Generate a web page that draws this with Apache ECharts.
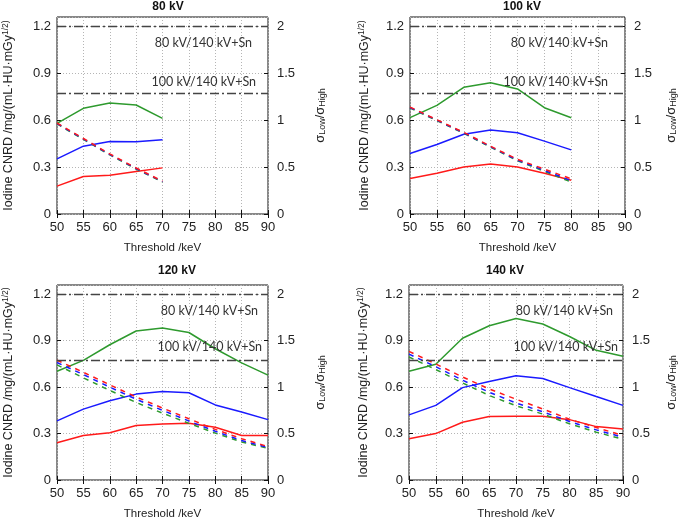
<!DOCTYPE html>
<html>
<head>
<meta charset="utf-8">
<script src="https://cdn.jsdelivr.net/npm/echarts@6/dist/echarts.min.js"></script>
<style>
html,body{margin:0;padding:0;background:#fff;}
#chart{width:685px;height:521px;}
</style>
</head>
<body>
<div id="chart"></div>
<script>
// ---------- data ----------
const panelTitles = ['80 kV', '100 kV', '120 kV', '140 kV'];
const xTickValues = [50, 55, 60, 65, 70, 75, 80, 85, 90];

const kev80  = [50, 55, 60, 65, 70];
const kev100 = [50, 55, 60, 65, 70, 75, 80];
const kev120 = [50, 55, 60, 65, 70, 75, 80, 85, 90];
const kev140 = [50, 55, 60, 65, 70, 75, 80, 85, 90];

// Iodine CNRD (left axis)
const cnrdGreen80 = [0.580, 0.676, 0.710, 0.697, 0.612];
const cnrdBlue80  = [0.353, 0.434, 0.464, 0.462, 0.475];
const cnrdRed80   = [0.178, 0.240, 0.248, 0.272, 0.295];

const cnrdGreen100 = [0.616, 0.695, 0.810, 0.840, 0.800, 0.680, 0.616];
const cnrdBlue100  = [0.387, 0.445, 0.510, 0.537, 0.520, 0.466, 0.410];
const cnrdRed100   = [0.227, 0.260, 0.300, 0.320, 0.300, 0.260, 0.216];

const cnrdGreen120 = [0.703, 0.773, 0.874, 0.963, 0.982, 0.953, 0.848, 0.757, 0.678];
const cnrdBlue120  = [0.382, 0.458, 0.512, 0.555, 0.572, 0.564, 0.485, 0.439, 0.390];
const cnrdRed120   = [0.241, 0.288, 0.305, 0.352, 0.362, 0.367, 0.341, 0.288, 0.288];

const cnrdGreen140 = [0.703, 0.748, 0.916, 0.997, 1.044, 1.008, 0.927, 0.838, 0.799];
const cnrdBlue140  = [0.421, 0.482, 0.597, 0.636, 0.674, 0.656, 0.597, 0.539, 0.482];
const cnrdRed140   = [0.266, 0.300, 0.373, 0.411, 0.412, 0.412, 0.390, 0.345, 0.330];

// sigma_Low / sigma_High (right axis)
const sigmaRed80   = [0.970, 0.805, 0.640, 0.490, 0.350];
const sigmaBlue80  = [0.965, 0.800, 0.635, 0.485, 0.345];
const sigmaGreen80 = [0.960, 0.795, 0.630, 0.480, 0.340];

const sigmaRed100   = [1.140, 1.005, 0.870, 0.722, 0.582, 0.478, 0.375];
const sigmaBlue100  = [1.135, 1.000, 0.865, 0.717, 0.575, 0.465, 0.355];
const sigmaGreen100 = [1.130, 0.995, 0.860, 0.712, 0.568, 0.455, 0.340];

const sigmaRed120   = [1.290, 1.160, 1.025, 0.895, 0.775, 0.660, 0.545, 0.445, 0.360];
const sigmaBlue120  = [1.265, 1.135, 1.000, 0.870, 0.750, 0.635, 0.525, 0.425, 0.350];
const sigmaGreen120 = [1.240, 1.100, 0.965, 0.835, 0.720, 0.610, 0.505, 0.410, 0.340];

const sigmaRed140   = [1.385, 1.250, 1.110, 0.980, 0.870, 0.765, 0.655, 0.565, 0.480];
const sigmaBlue140  = [1.355, 1.220, 1.075, 0.945, 0.830, 0.735, 0.630, 0.540, 0.460];
const sigmaGreen140 = [1.325, 1.190, 1.045, 0.910, 0.800, 0.710, 0.605, 0.515, 0.440];

// reference sigma ratios (dash-dot lines)
const refRatios = [2.0, 1.29];
const refLabels = ['80 kV/140 kV+Sn', '100 kV/140 kV+Sn'];

// ---------- layout / style ----------
const RED = '#ff1a1a', BLUE = '#1a1aff', GREEN = '#2e9a2e';
const FONT = '"Liberation Sans", Arial, sans-serif';

const panelData = [
  {kev: kev80,  cg: cnrdGreen80,  cb: cnrdBlue80,  cr: cnrdRed80,  sr: sigmaRed80,  sb: sigmaBlue80,  sg: sigmaGreen80},
  {kev: kev100, cg: cnrdGreen100, cb: cnrdBlue100, cr: cnrdRed100, sr: sigmaRed100, sb: sigmaBlue100, sg: sigmaGreen100},
  {kev: kev120, cg: cnrdGreen120, cb: cnrdBlue120, cr: cnrdRed120, sr: sigmaRed120, sb: sigmaBlue120, sg: sigmaGreen120},
  {kev: kev140, cg: cnrdGreen140, cb: cnrdBlue140, cr: cnrdRed140, sr: sigmaRed140, sb: sigmaBlue140, sg: sigmaGreen140}
];

const layout = [
  {grid: {left: 54, top: 17, width: 214, height: 197}, title: [168, 1], lGap: 40, rGap: 46,
   lab1: [5, 11], lab2: [0, 7]},
  {grid: {left: 410, top: 17, width: 215, height: 197}, title: [522, 1], lGap: 37, rGap: 40,
   lab1: [5, 12], lab2: [0, 12]},
  {grid: {left: 54, top: 285, width: 214, height: 197}, title: [177, 265], lGap: 40, rGap: 46,
   lab1: [5, 5], lab2: [2, 1]},
  {grid: {left: 409, top: 285, width: 214, height: 197}, title: [505, 265], lGap: 37, rGap: 42,
   lab1: [5, 5], lab2: [2, 0]}
];

const pairs = (xs, ys) => xs.map((x, i) => [x, ys[i]]);

const option = {
  animation: false,
  backgroundColor: '#fff',
  title: [], grid: [], xAxis: [], yAxis: [], series: []
};

layout.forEach((L, i) => {
  const D = panelData[i];
  option.title.push({
    text: panelTitles[i], left: L.title[0], top: L.title[1], textAlign: 'center', padding: 0,
    textStyle: {fontFamily: FONT, fontSize: 12, fontWeight: 'bold', color: '#111'}
  });
  option.grid.push(Object.assign({show: true, borderColor: '#111', borderWidth: 1, backgroundColor: 'transparent', containLabel: false}, L.grid));
  const axisText = {fontFamily: FONT, fontSize: 13, color: '#222'};
  // bottom x axis
  option.xAxis.push({
    type: 'value', gridIndex: i, position: 'bottom', min: 50, max: 90, interval: 5,
    axisLine: {show: false},
    axisTick: {show: true, inside: true, length: 4, lineStyle: {color: '#111'}},
    axisLabel: Object.assign({margin: 7}, axisText),
    splitLine: {show: true, lineStyle: {color: '#b5b5b5', type: [1, 2], width: 1}},
    name: 'Threshold /keV', nameLocation: 'middle', nameGap: 28,
    nameTextStyle: {fontFamily: FONT, fontSize: 11.5, color: '#222'}
  });
  // top x axis (mirror ticks)
  option.xAxis.push({
    type: 'value', gridIndex: i, position: 'top', min: 50, max: 90, interval: 5,
    axisLine: {show: false},
    axisTick: {show: true, inside: true, length: 4, lineStyle: {color: '#111'}},
    axisLabel: {show: false}, splitLine: {show: false}
  });
  // left y axis: CNRD
  option.yAxis.push({
    type: 'value', gridIndex: i, position: 'left', min: 0, max: 1.26, interval: 0.3,
    axisLine: {show: false},
    axisTick: {show: true, inside: true, length: 4, lineStyle: {color: '#111'}},
    axisLabel: Object.assign({margin: 6, showMaxLabel: false}, axisText),
    splitLine: {show: true, lineStyle: {color: '#b5b5b5', type: [1, 2], width: 1}},
    name: '{m|Iodine CNRD /mg/(mL·HU·mGy}{sup|1/2)}',
    nameLocation: 'middle', nameRotate: 90, nameGap: L.lGap,
    nameTextStyle: {fontFamily: FONT, fontSize: 12.5, color: '#222',
      rich: {m: {fontFamily: FONT, fontSize: 12.5, color: '#222'},
             sup: {fontFamily: FONT, fontSize: 8.5, color: '#222', padding: [0, 0, 7, 0]}}}
  });
  // right y axis: sigma ratio
  option.yAxis.push({
    type: 'value', gridIndex: i, position: 'right', min: 0, max: 2.1, interval: 0.5,
    axisLine: {show: false},
    axisTick: {show: true, inside: true, length: 4, lineStyle: {color: '#111'}},
    axisLabel: Object.assign({margin: 9, showMaxLabel: false}, axisText),
    splitLine: {show: false},
    name: '{m|σ}{sub|Low}{m|/σ}{sub|High}',
    nameLocation: 'middle', nameRotate: 90, nameGap: L.rGap,
    nameTextStyle: {fontFamily: FONT, fontSize: 13, color: '#222',
      rich: {m: {fontFamily: FONT, fontSize: 13, color: '#222', padding: [0, 0, 4, 0]},
             sub: {fontFamily: FONT, fontSize: 9, color: '#222'}}}
  });
  const xa = 2 * i, yl = 2 * i, yr = 2 * i + 1;
  const solid = (data, color) => ({
    type: 'line', xAxisIndex: xa, yAxisIndex: yl, data: pairs(D.kev, data),
    showSymbol: false, symbol: 'none', lineStyle: {color, width: 1.5}, itemStyle: {color}, z: 3
  });
  const dashed = (data, color) => ({
    type: 'line', xAxisIndex: xa, yAxisIndex: yr, data: pairs(D.kev, data),
    showSymbol: false, symbol: 'none', lineStyle: {color, width: 1.5, type: [5, 5]}, itemStyle: {color}, z: 4
  });
  option.series.push(solid(D.cg, GREEN), solid(D.cb, BLUE), solid(D.cr, RED));
  const sg = dashed(D.sg, GREEN);
  option.series.push(sg, dashed(D.sb, BLUE), dashed(D.sr, RED));
  // reference ratio lines (dash-dot) with their labels
  const labStyle = {fontFamily: 'Lato, "Open Sans", sans-serif', fontSize: 12.5, color: '#333'};
  sg.markLine = {
    silent: true, symbol: 'none', animation: false,
    lineStyle: {color: '#444', width: 1.3, type: [9, 3, 2, 3]},
    data: [
      {yAxis: refRatios[0], label: Object.assign({show: true, formatter: refLabels[0], position: 'insideEndBottom', distance: 5,
        padding: [L.lab1[0], L.lab1[1], 0, 0]}, labStyle)},
      {yAxis: refRatios[1], label: Object.assign({show: true, formatter: refLabels[1], position: 'insideEndTop', distance: 5,
        padding: [0, L.lab2[1], L.lab2[0], 0]}, labStyle)}
    ]
  };
});

const chart = echarts.init(document.getElementById('chart'), null, {renderer: 'canvas'});
chart.setOption(option);
</script>
</body>
</html>
